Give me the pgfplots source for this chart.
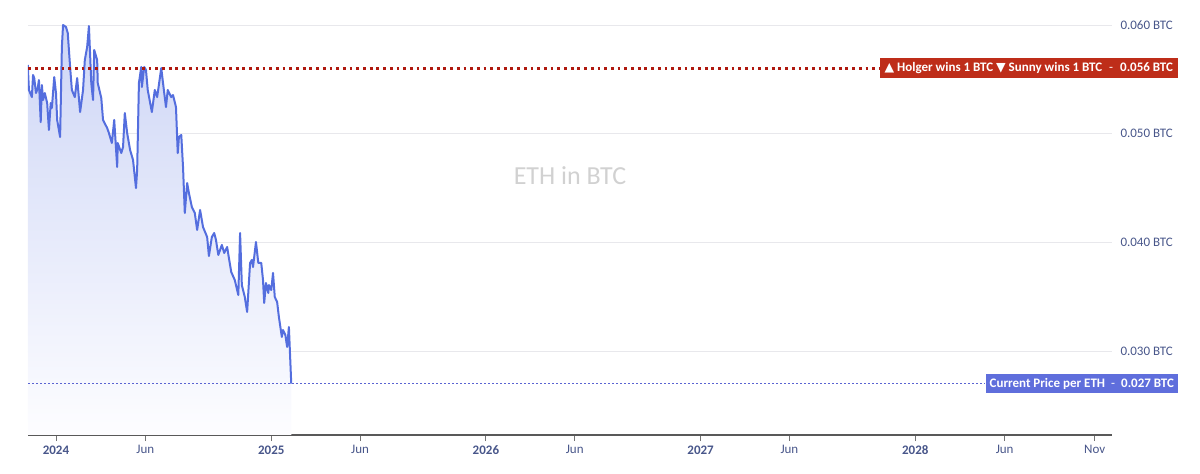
\documentclass[border=0pt]{standalone}
\usepackage{pgfplots}
\pgfplotsset{compat=1.18}
\usepackage{pgfplotstable}
\usepackage{fontspec}
\setmainfont{Carlito}
\newfontfamily\sym{DejaVu Sans}
\definecolor{lineblue}{RGB}{84,110,222}
\definecolor{filltop}{RGB}{206,214,246}
\definecolor{fillbot}{RGB}{253,253,255}
\definecolor{redbox}{RGB}{190,45,25}
\definecolor{reddot}{RGB}{175,25,15}
\definecolor{bluebox}{RGB}{95,110,220}
\definecolor{bluedot}{RGB}{90,100,210}
\definecolor{labelc}{RGB}{72,86,138}
\definecolor{gridc}{RGB}{232,232,236}

\pgfplotstableread{
day val
-48 0.05632
-46 0.05402
-41 0.05337
-39 0.05540
-37 0.05512
-34 0.05374
-31 0.05420
-29 0.05494
-26 0.05107
-24 0.05448
-22 0.05310
-19 0.05374
-15 0.05282
-12 0.05034
-9 0.05282
-7 0.05236
-3 0.05521
0 0.05374
2 0.05126
7 0.04969
10 0.05798
12 0.06000
17 0.05982
20 0.05926
24 0.05614
27 0.05402
32 0.05337
36 0.05512
41 0.05199
46 0.05402
49 0.05678
53 0.05798
56 0.05991
60 0.05466
63 0.05310
65 0.05770
70 0.05678
71 0.05466
77 0.05328
80 0.05126
87 0.05052
90 0.05006
95 0.04914
99 0.05126
104 0.04693
105 0.04914
111 0.04822
114 0.04877
117 0.05190
121 0.05006
126 0.04850
131 0.04758
136 0.04500
138 0.04666
141 0.05466
145 0.05614
146 0.05429
150 0.05614
153 0.05586
156 0.05402
163 0.05199
168 0.05402
172 0.05337
179 0.05604
182 0.05466
187 0.05245
190 0.05402
196 0.05337
199 0.05356
204 0.05245
207 0.04822
209 0.04969
213 0.04988
216 0.04693
219 0.04270
223 0.04546
226 0.04454
231 0.04325
236 0.04270
240 0.04114
245 0.04298
250 0.04141
257 0.04049
260 0.03874
265 0.04049
269 0.04086
272 0.04022
276 0.03884
282 0.03976
286 0.03902
291 0.03957
294 0.03856
298 0.03727
304 0.03653
310 0.03515
313 0.04086
316 0.03607
321 0.03497
325 0.03359
330 0.03810
333 0.03838
335 0.03773
340 0.04003
344 0.03810
349 0.03810
352 0.03653
354 0.03442
357 0.03626
361 0.03534
362 0.03607
366 0.03561
369 0.03718
372 0.03497
376 0.03451
379 0.03313
384 0.03129
386 0.03193
390 0.03147
393 0.03037
396 0.03221
400 0.02700
}\ethbtc

\begin{document}
\begin{tikzpicture}
\path[use as bounding box] (0,0) rectangle (1200pt,474pt);
\begin{axis}[
  at={(28pt,39pt)}, anchor=south west, scale only axis,
  width=1084pt, height=415.4pt,
  xmin=-47.6, xmax=1795.5, ymin=0.02227, ymax=0.0605,
  axis x line*=bottom, axis y line*=right,
  y axis line style={draw=none},
  x axis line style={draw=black!65, line width=1.3pt},
  xtick={0,152,366,517,731,882,1096,1247,1461,1613,1766},
  xticklabels={\textbf{2024},Jun,\textbf{2025},Jun,\textbf{2026},Jun,\textbf{2027},Jun,\textbf{2028},Jun,Nov},
  xtick style={draw=black!55, line width=0.9pt},
  tick align=outside, major tick length=6pt,
  ytick={0.03,0.04,0.05,0.06},
  yticklabels={0.030 BTC,0.040 BTC,0.050 BTC,0.060 BTC},
  scaled y ticks=false, scaled x ticks=false,
  ytick style={draw=none}, yticklabel pos=right,
  ymajorgrids, grid style={gridc, line width=0.9pt},
  tick label style={font=\fontsize{13}{15}\selectfont, text=labelc},
  yticklabel style={xshift=-1pt},
  xticklabel style={yshift=-1pt},
]
\addplot[draw=none, top color=filltop, bottom color=fillbot] table[x=day,y=val] {\ethbtc} |- (axis cs:-48,0.02227) -- cycle;
\addplot[lineblue, line width=2pt, line join=round] table[x=day,y=val] {\ethbtc};
\coordinate (redR) at (axis cs:1908,0.056);
\coordinate (redL) at (axis cs:-47.6,0.056);
\coordinate (bluR) at (axis cs:1908,0.027);
\coordinate (bluL) at (axis cs:-47.6,0.027);
\coordinate (wm) at (axis cs:874,0.0461);
\end{axis}
\node[text=black!18, font=\fontsize{26}{30}\selectfont] at (wm) {ETH in BTC};
\node[fill=redbox, text=white, anchor=east, inner xsep=5pt, inner ysep=0pt, minimum height=20pt,
  font=\fontsize{13}{15}\selectfont\bfseries] (rb) at (redR)
  {{\sym\fontsize{12.5}{14}\selectfont▲} Holger wins 1 BTC {\sym\fontsize{12.5}{14}\selectfont▼} Sunny wins 1 BTC\hspace{7pt}{\mdseries -}\hspace{7pt}0.056 BTC};
\draw[reddot, line width=2.8pt, dash pattern=on 2.8pt off 3.9pt] (redL) -- (rb.west);
\node[fill=bluebox, text=white, anchor=east, inner xsep=4pt, inner ysep=0pt, minimum height=19pt,
  font=\fontsize{13}{15}\selectfont\bfseries] (bb) at (bluR)
  {Current Price per ETH\hspace{6pt}{\mdseries -}\hspace{6pt}0.027 BTC};
\draw[bluedot, line width=0.9pt, dash pattern=on 1.6pt off 2.4pt] (bluL) -- (bb.west);
\end{tikzpicture}
\end{document}
